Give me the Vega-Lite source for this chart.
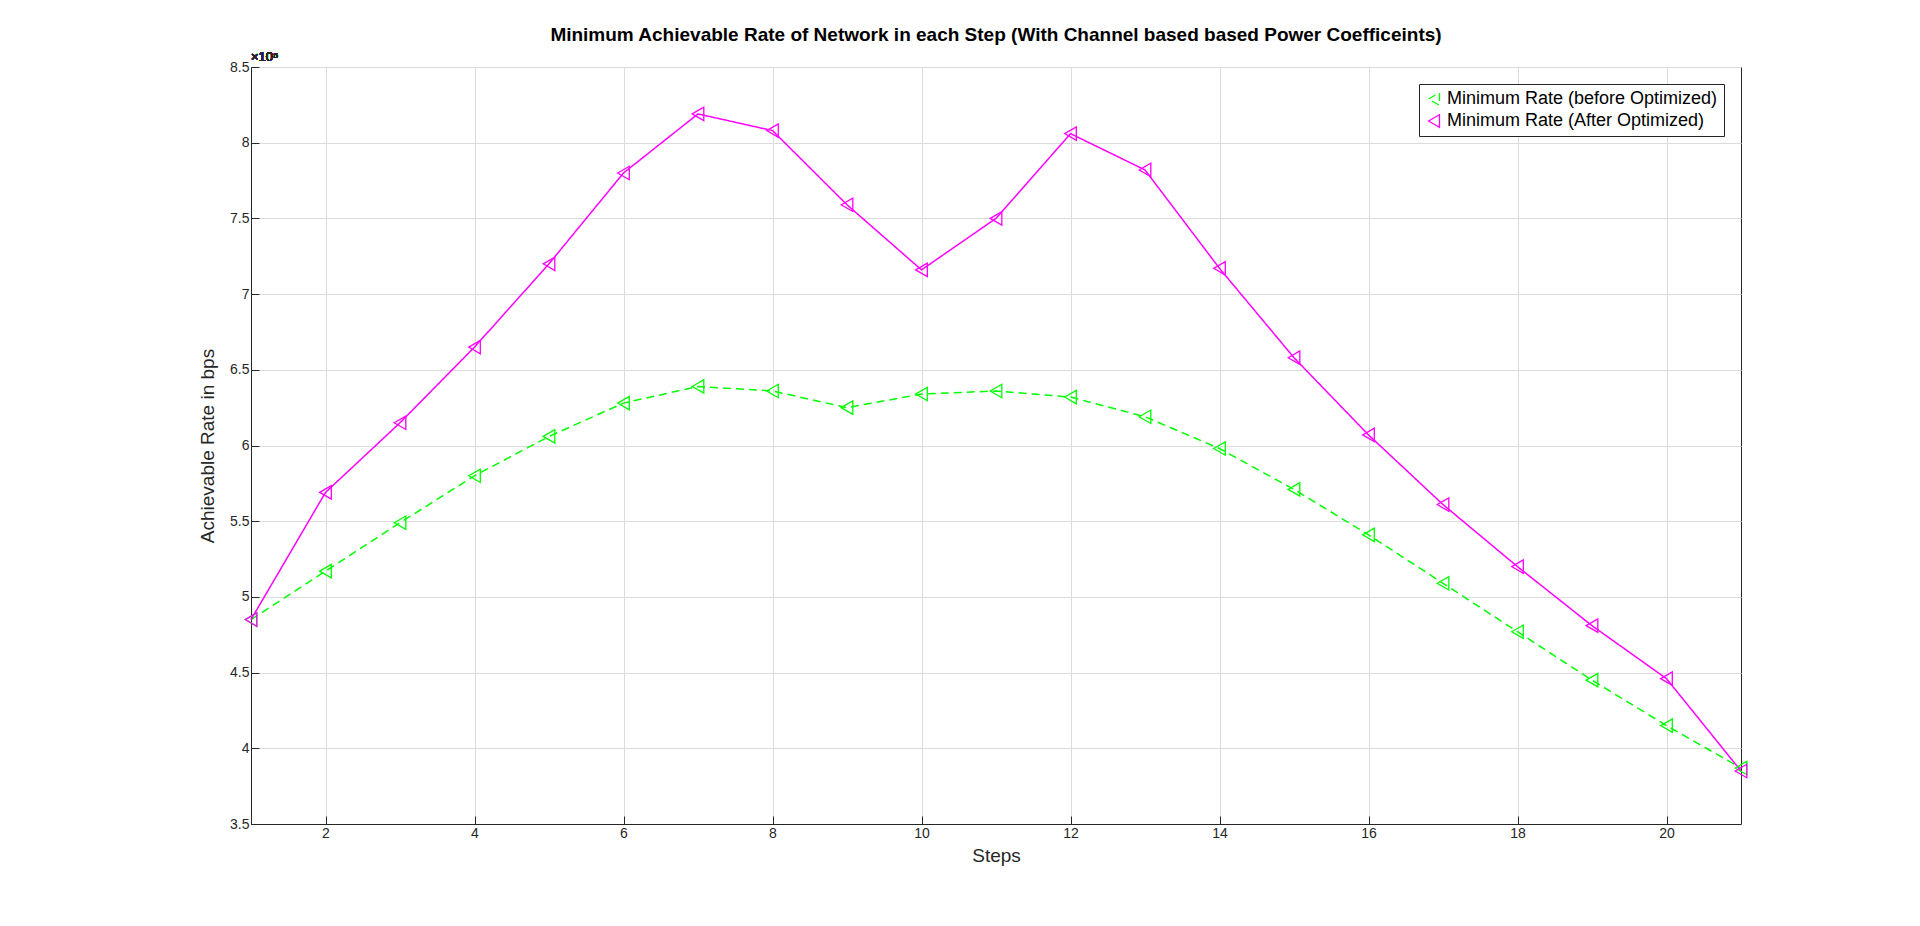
{
  "$schema": "https://vega.github.io/schema/vega-lite/v6.json",
  "width": 1490,
  "height": 757,
  "autosize": {"type": "none"},
  "padding": {"left": 251, "top": 67, "right": 179, "bottom": 102},
  "background": "white",
  "title": {
    "text": "Minimum Achievable Rate of Network in each Step (With Channel based based Power Coefficeints)",
    "font": "Liberation Sans", "fontSize": 19, "fontWeight": "bold", "color": "#000", "offset": 6
  },
  "config": {
    "view": {"stroke": "#262626", "strokeWidth": 1},
    "axis": {
      "labelFont": "Liberation Sans", "labelFontSize": 14, "labelColor": "#262626",
      "titleFont": "Liberation Sans", "titleFontSize": 19, "titleFontWeight": "normal", "titleColor": "#262626",
      "gridColor": "#dcdcdc", "domainColor": "#262626", "tickColor": "#262626",
      "tickSize": -8, "labelPadding": 10
    }
  },
  "data": {
    "values": [
      {"step": 1, "s": "Minimum Rate (before Optimized)", "v": 485000},
      {"step": 2, "s": "Minimum Rate (before Optimized)", "v": 517000},
      {"step": 3, "s": "Minimum Rate (before Optimized)", "v": 549000},
      {"step": 4, "s": "Minimum Rate (before Optimized)", "v": 580000},
      {"step": 5, "s": "Minimum Rate (before Optimized)", "v": 606000},
      {"step": 6, "s": "Minimum Rate (before Optimized)", "v": 628000},
      {"step": 7, "s": "Minimum Rate (before Optimized)", "v": 639000},
      {"step": 8, "s": "Minimum Rate (before Optimized)", "v": 636000},
      {"step": 9, "s": "Minimum Rate (before Optimized)", "v": 625000},
      {"step": 10, "s": "Minimum Rate (before Optimized)", "v": 634000},
      {"step": 11, "s": "Minimum Rate (before Optimized)", "v": 636000},
      {"step": 12, "s": "Minimum Rate (before Optimized)", "v": 632000},
      {"step": 13, "s": "Minimum Rate (before Optimized)", "v": 619000},
      {"step": 14, "s": "Minimum Rate (before Optimized)", "v": 598000},
      {"step": 15, "s": "Minimum Rate (before Optimized)", "v": 571000},
      {"step": 16, "s": "Minimum Rate (before Optimized)", "v": 541000},
      {"step": 17, "s": "Minimum Rate (before Optimized)", "v": 509000},
      {"step": 18, "s": "Minimum Rate (before Optimized)", "v": 477000},
      {"step": 19, "s": "Minimum Rate (before Optimized)", "v": 445000},
      {"step": 20, "s": "Minimum Rate (before Optimized)", "v": 415000},
      {"step": 21, "s": "Minimum Rate (before Optimized)", "v": 387000},
      {"step": 1, "s": "Minimum Rate (After Optimized)", "v": 485000},
      {"step": 2, "s": "Minimum Rate (After Optimized)", "v": 569000},
      {"step": 3, "s": "Minimum Rate (After Optimized)", "v": 615000},
      {"step": 4, "s": "Minimum Rate (After Optimized)", "v": 665000},
      {"step": 5, "s": "Minimum Rate (After Optimized)", "v": 720000},
      {"step": 6, "s": "Minimum Rate (After Optimized)", "v": 780000},
      {"step": 7, "s": "Minimum Rate (After Optimized)", "v": 819000},
      {"step": 8, "s": "Minimum Rate (After Optimized)", "v": 808000},
      {"step": 9, "s": "Minimum Rate (After Optimized)", "v": 759000},
      {"step": 10, "s": "Minimum Rate (After Optimized)", "v": 716000},
      {"step": 11, "s": "Minimum Rate (After Optimized)", "v": 750000},
      {"step": 12, "s": "Minimum Rate (After Optimized)", "v": 806000},
      {"step": 13, "s": "Minimum Rate (After Optimized)", "v": 782000},
      {"step": 14, "s": "Minimum Rate (After Optimized)", "v": 717000},
      {"step": 15, "s": "Minimum Rate (After Optimized)", "v": 658000},
      {"step": 16, "s": "Minimum Rate (After Optimized)", "v": 607000},
      {"step": 17, "s": "Minimum Rate (After Optimized)", "v": 561000},
      {"step": 18, "s": "Minimum Rate (After Optimized)", "v": 520000},
      {"step": 19, "s": "Minimum Rate (After Optimized)", "v": 481000},
      {"step": 20, "s": "Minimum Rate (After Optimized)", "v": 446000},
      {"step": 21, "s": "Minimum Rate (After Optimized)", "v": 385000}
    ]
  },
  "encoding": {
    "x": {"field": "step", "type": "quantitative", "title": "Steps",
      "scale": {"domain": [1, 21], "nice": false},
      "axis": {"values": [2, 4, 6, 8, 10, 12, 14, 16, 18, 20], "format": "d", "titlePadding": 6}},
    "y": {"field": "v", "type": "quantitative", "title": "Achievable Rate in bps",
      "scale": {"domain": [350000, 850000], "nice": false},
      "axis": {"values": [350000, 400000, 450000, 500000, 550000, 600000, 650000, 700000, 750000, 800000, 850000],
        "labelExpr": "format(datum.value / 100000, '.2~f')", "titlePadding": 12}},
    "color": {"field": "s", "type": "nominal",
      "scale": {"domain": ["Minimum Rate (before Optimized)", "Minimum Rate (After Optimized)"], "range": ["#00ff00", "#ff00ff"]},
      "legend": {"title": null, "orient": "top-right", "offset": 17, "strokeColor": "#262626", "fillColor": "white",
        "padding": 6, "labelFont": "Liberation Sans", "labelFontSize": 18, "labelColor": "#000", "labelLimit": 400,
        "symbolType": "triangle-left", "symbolFillColor": "transparent", "symbolSize": 160, "symbolStrokeWidth": 1.3, "rowPadding": 4}}
  },
  "layer": [
    {
      "mark": {"type": "line", "strokeWidth": 1.5},
      "encoding": {
        "strokeDash": {"field": "s", "type": "nominal",
          "scale": {"domain": ["Minimum Rate (before Optimized)", "Minimum Rate (After Optimized)"], "range": [[8, 5], [1, 0]]},
          "legend": null}
      }
    },
    {
      "mark": {"type": "point", "shape": "triangle-left", "filled": false, "size": 180, "strokeWidth": 1.3, "opacity": 1}
    },
    {
      "mark": {"type": "text", "text": "×10⁵", "align": "left", "baseline": "bottom", "dy": -3, "font": "Liberation Sans", "fontSize": 13, "color": "#262626"},
      "encoding": {"x": {"datum": 1}, "y": {"datum": 850000}, "color": {"value": "#262626"}}
    }
  ]
}
